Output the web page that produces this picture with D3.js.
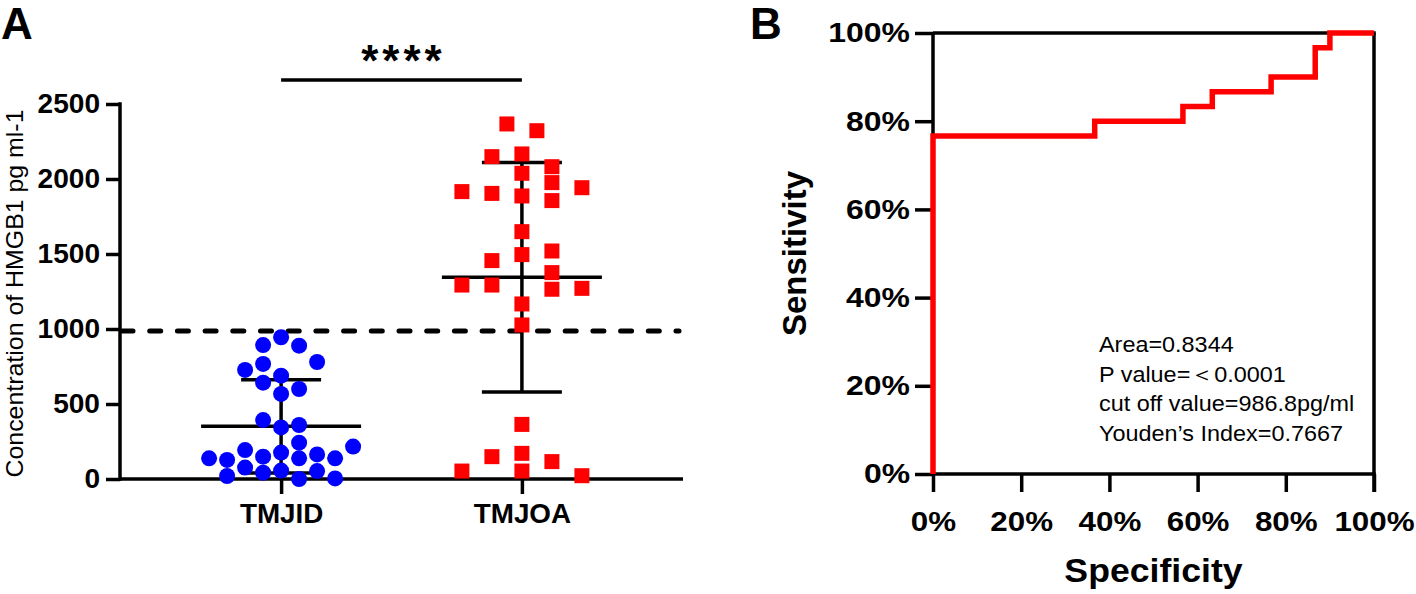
<!DOCTYPE html>
<html>
<head>
<meta charset="utf-8">
<script src="https://cdn.jsdelivr.net/npm/d3@7"></script>
<style>
  body { margin: 0; background: #fff; }
  svg { display: block; font-family: "Liberation Sans", Arial, sans-serif; }
</style>
</head>
<body>
<div id="chart"></div>
<script>
// group names on the left panel
const GROUPS = ["TMJID", "TMJOA"];

// HMGB1 values (pg/ml), with the swarm lane of each point
const TMJID_VALUES = [945, 893, 889, 780, 767, 727, 689, 642, 600, 567,
                      393, 344, 360, 242, 216, 193, 138, 127, 149, 176,
                      138, 164, 138, 20, 76, 42, 56, 0, 53, 4];
const TMJID_LANES  = [0, -1, 1, 2, -1, -2, 0, -1, 1, 0,
                      -1, 0, 1, 1, 4, -2, -4, -3, -1, 0,
                      1, 2, 3, -3, -2, -1, 0, 1, 2, 3];
const TMJOA_VALUES = [2367, 2322, 2149, 2167, 2082, 2038, 1976, 1916, 1904, 1942,
                      1887, 1856, 1649, 1456, 1496, 1520, 1376, 1293, 1293, 1265,
                      1271, 1167, 1027, 364, 149, 171, 116, 53, 53, 22];
const TMJOA_LANES  = [-1, 1, -2, 0, 2, 0, 2, -4, -2, 4,
                      0, 2, 0, -2, 0, 2, 2, -4, -2, 2,
                      4, 0, 0, 0, -2, 0, 2, -4, 0, 4];

const Y_TICKS_A = [0, 500, 1000, 1500, 2000, 2500];
const CUTOFF = 986.8;
const SIG_LABEL = "****";

// ROC curve (specificity, sensitivity) steps
const ROC_SPEC = [0, 0, 0.3667, 0.3667, 0.5667, 0.5667, 0.6333, 0.6333, 0.7667, 0.7667, 0.8667, 0.8667, 0.9, 0.9, 1];
const ROC_SENS = [0, 0.7667, 0.7667, 0.8, 0.8, 0.8333, 0.8333, 0.8667, 0.8667, 0.9, 0.9, 0.9667, 0.9667, 1, 1];
const PCT_TICKS = [0, 0.2, 0.4, 0.6, 0.8, 1];
const ROC_NOTES = ["Area=0.8344", "P value=\uFF1C0.0001", "cut off value=986.8pg/ml", "Youden\u2019s Index=0.7667"];

const W = 1416, H = 594;
const svg = d3.select("#chart").append("svg").attr("width", W).attr("height", H);

const STROKE = 3.5;

// the figure's lettering is a bit wider than plain Arial, so widen it
function widen(sel, k) {
  sel.each(function () {
    const len = this.getComputedTextLength();
    d3.select(this).attr("textLength", len * k).attr("lengthAdjust", "spacingAndGlyphs");
  });
}

// ---------- panel A ----------
const A = {left: 120, right: 683, top: 104, bottom: 479};
const yA = d3.scaleLinear().domain([0, 2500]).range([A.bottom, A.top]);
const xA = d3.scalePoint().domain(GROUPS).range([A.left, A.right]).padding(0.669);

svg.append("text").attr("x", 1).attr("y", 39)
  .attr("font-size", 44).attr("font-weight", "bold").text("A");

// y axis
const gyA = svg.append("g").attr("transform", `translate(${A.left},0)`)
  .call(d3.axisLeft(yA).tickValues(Y_TICKS_A).tickSize(14).tickPadding(6).tickFormat(d3.format("d")));
gyA.select(".domain").remove();
gyA.selectAll("line").attr("stroke", "#000").attr("stroke-width", STROKE);
gyA.selectAll("text").attr("font-size", 27).attr("font-weight", "bold").attr("font-family", "Liberation Sans, Arial, sans-serif");
widen(gyA.selectAll("text"), 1.04);
svg.append("line").attr("x1", A.left).attr("x2", A.left)
  .attr("y1", A.top - STROKE / 2).attr("y2", A.bottom + STROKE / 2)
  .attr("stroke", "#000").attr("stroke-width", STROKE);

// x axis
const gxA = svg.append("g").attr("transform", `translate(0,${A.bottom})`)
  .call(d3.axisBottom(xA).tickSize(15).tickPadding(10));
gxA.select(".domain").remove();
gxA.selectAll("line").attr("stroke", "#000").attr("stroke-width", STROKE);
gxA.selectAll("text").attr("font-size", 27).attr("font-weight", "bold").attr("font-family", "Liberation Sans, Arial, sans-serif");
widen(gxA.selectAll("text"), 1.03);
svg.append("line").attr("x1", A.left).attr("x2", A.right)
  .attr("y1", A.bottom).attr("y2", A.bottom)
  .attr("stroke", "#000").attr("stroke-width", STROKE);

const yTitle = svg.append("text")
  .attr("transform", `translate(23,${(A.top + A.bottom) / 2 + 2}) rotate(-90)`)
  .attr("text-anchor", "middle").attr("font-size", 24).text("Concentration of HMGB1 pg ml-1");
yTitle.attr("textLength", 368).attr("lengthAdjust", "spacingAndGlyphs");

// cut-off dashed line
svg.append("line").attr("x1", A.left + 2).attr("x2", A.right - 4)
  .attr("y1", yA(CUTOFF)).attr("y2", yA(CUTOFF))
  .attr("stroke", "#000").attr("stroke-width", 5)
  .attr("stroke-dasharray", "11,16.7").attr("stroke-linecap", "round");

// mean +/- SD for each group
const groups = [
  {name: GROUPS[0], values: TMJID_VALUES, lanes: TMJID_LANES, laneW: 18},
  {name: GROUPS[1], values: TMJOA_VALUES, lanes: TMJOA_LANES, laneW: 15}
];
groups.forEach(g => {
  const cx = xA(g.name);
  const m = d3.mean(g.values), sd = d3.deviation(g.values);
  const lo = Math.max(0, m - sd), hi = m + sd;
  const stat = svg.append("g").attr("stroke", "#000").attr("stroke-width", STROKE);
  stat.append("line").attr("x1", cx).attr("x2", cx).attr("y1", yA(lo)).attr("y2", yA(hi));
  stat.append("line").attr("x1", cx - 80).attr("x2", cx + 80).attr("y1", yA(m)).attr("y2", yA(m));
  stat.append("line").attr("x1", cx - 40).attr("x2", cx + 40).attr("y1", yA(hi)).attr("y2", yA(hi));
  stat.append("line").attr("x1", cx - 40).attr("x2", cx + 40).attr("y1", yA(lo)).attr("y2", yA(lo));
});

// points
svg.append("g").selectAll("circle")
  .data(TMJID_VALUES.map((v, i) => ({v, lane: TMJID_LANES[i]})))
  .join("circle")
  .attr("cx", d => xA(GROUPS[0]) + d.lane * groups[0].laneW)
  .attr("cy", d => yA(d.v))
  .attr("r", 8).attr("fill", "#0000ff");

const SQ = 15;
svg.append("g").selectAll("rect")
  .data(TMJOA_VALUES.map((v, i) => ({v, lane: TMJOA_LANES[i]})))
  .join("rect")
  .attr("x", d => xA(GROUPS[1]) + d.lane * groups[1].laneW - SQ / 2)
  .attr("y", d => yA(d.v) - SQ / 2)
  .attr("width", SQ).attr("height", SQ).attr("fill", "#ff0000");

// significance bar
svg.append("line").attr("x1", xA(GROUPS[0])).attr("x2", xA(GROUPS[1]))
  .attr("y1", 80).attr("y2", 80).attr("stroke", "#000").attr("stroke-width", STROKE);
svg.append("text").attr("x", (xA(GROUPS[0]) + xA(GROUPS[1])) / 2 + 2).attr("y", 76)
  .attr("text-anchor", "middle").attr("font-size", 44).attr("font-weight", "bold")
  .attr("letter-spacing", 4).text(SIG_LABEL);

// ---------- panel B ----------
const B = {left: 933, right: 1374, top: 33, bottom: 474};
const xB = d3.scaleLinear().domain([0, 1]).range([B.left, B.right]);
const yB = d3.scaleLinear().domain([0, 1]).range([B.bottom, B.top]);
const pct = d3.format(".0%");

svg.append("text").attr("x", 750).attr("y", 39)
  .attr("font-size", 44).attr("font-weight", "bold").text("B");

const gyB = svg.append("g").attr("transform", `translate(${B.left},0)`)
  .call(d3.axisLeft(yB).tickValues(PCT_TICKS).tickSize(18).tickPadding(5).tickFormat(pct));
gyB.select(".domain").remove();
gyB.selectAll("line").attr("stroke", "#000").attr("stroke-width", STROKE);
gyB.selectAll("text").attr("font-size", 28).attr("font-weight", "bold").attr("font-family", "Liberation Sans, Arial, sans-serif");
widen(gyB.selectAll("text"), 1.14);

const gxB = svg.append("g").attr("transform", `translate(0,${B.bottom})`)
  .call(d3.axisBottom(xB).tickValues(PCT_TICKS).tickSize(18).tickPadding(19).tickFormat(pct));
gxB.select(".domain").remove();
gxB.selectAll("line").attr("stroke", "#000").attr("stroke-width", STROKE);
gxB.selectAll("text").attr("font-size", 28).attr("font-weight", "bold").attr("font-family", "Liberation Sans, Arial, sans-serif");
widen(gxB.selectAll("text"), 1.12);

// frame: left, bottom, top, right
const frame = svg.append("g").attr("stroke", "#000").attr("stroke-width", STROKE);
frame.append("line").attr("x1", B.left).attr("x2", B.left).attr("y1", B.top).attr("y2", B.bottom);
frame.append("line").attr("x1", B.left - STROKE / 2).attr("x2", B.right + STROKE / 2).attr("y1", B.bottom).attr("y2", B.bottom);
frame.append("line").attr("x1", B.left).attr("x2", B.right + STROKE / 2).attr("y1", B.top).attr("y2", B.top);
frame.append("line").attr("x1", B.right).attr("x2", B.right).attr("y1", B.top).attr("y2", B.bottom + 18);

// ROC curve
const roc = ROC_SPEC.map((s, i) => [s, ROC_SENS[i]]);
svg.append("path").datum(roc)
  .attr("d", d3.line().x(d => xB(d[0])).y(d => yB(d[1])))
  .attr("fill", "none").attr("stroke", "#ff0000").attr("stroke-width", 5.5)
  .attr("stroke-linejoin", "miter");

const xTitle = svg.append("text")
  .attr("transform", `translate(${(B.left + B.right) / 2},582)`)
  .attr("text-anchor", "middle").attr("font-size", 33).attr("font-weight", "bold").text("Specificity");
widen(xTitle, 1.08);
svg.append("text")
  .attr("transform", `translate(806,${(B.top + B.bottom) / 2}) rotate(-90)`)
  .attr("text-anchor", "middle").attr("font-size", 33).attr("font-weight", "bold").text("Sensitivity");

const notes = svg.append("g").selectAll("text").data(ROC_NOTES).join("text")
  .attr("x", 1099).attr("y", (d, i) => 352 + i * 29.5)
  .attr("font-size", 22.5).text(d => d);
widen(notes, 1.04);
</script>
</body>
</html>
